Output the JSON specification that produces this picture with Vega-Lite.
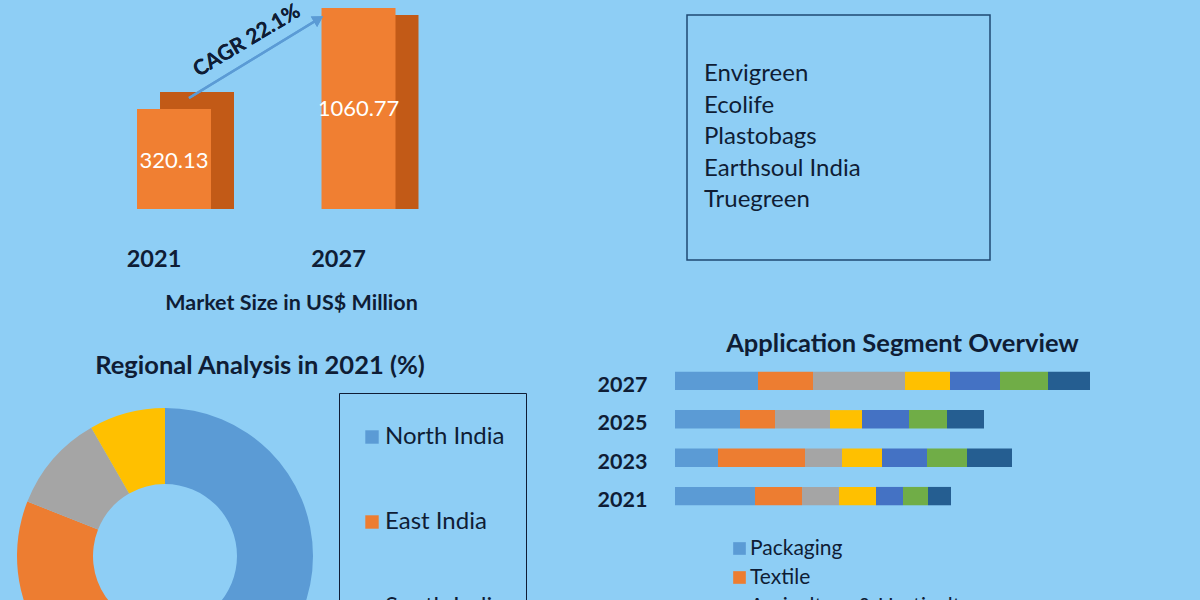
{
  "$schema": "https://vega.github.io/schema/vega-lite/v6.json",
  "background": "#8ECEF5",
  "padding": 0,
  "config": {
    "view": {"stroke": null},
    "font": "Lato",
    "axis": {"labelColor": "#0F1D35", "titleColor": "#0F1D35", "labelFont": "Lato", "titleFont": "Lato"},
    "title": {"color": "#0F1D35", "font": "Lato"},
    "legend": {"labelColor": "#0F1D35", "labelFont": "Lato"}
  },
  "spacing": 17,
  "resolve": {"scale": {"color": "independent"}, "legend": {"color": "independent"}},
  "vconcat": [
    {
      "spacing": 136,
      "resolve": {"scale": {"color": "independent"}, "legend": {"color": "independent"}},
      "hconcat": [
        {
          "width": 550,
          "height": 194,
          "data": {"values": [{"year": "2021", "value": 320.13}, {"year": "2027", "value": 1060.77}]},
          "encoding": {
            "x": {
              "field": "year",
              "type": "nominal",
              "scale": {"domain": ["2021", "2027"], "paddingInner": 0.599, "paddingOuter": 0.79, "align": 0.47},
              "axis": {
                "title": "Market Size in US$ Million",
                "labelAngle": 0,
                "domain": false,
                "ticks": false,
                "tickSize": 0,
                "grid": false,
                "labelPadding": 38,
                "labelOffset": -20,
                "labelFontSize": 23.5,
                "labelFontWeight": "bold",
                "titleFontSize": 21.5,
                "titleFontWeight": "bold",
                "titlePadding": 22,
                "titleX": 291
              }
            }
          },
          "layer": [
            {
              "mark": {"type": "bar", "color": "#C25A17", "xOffset": 23, "yOffset": -17, "clip": true},
              "encoding": {
                "y": {"field": "value", "type": "quantitative", "scale": {"domain": [-413.1, 1009.5], "nice": false, "zero": false}, "axis": null},
                "y2": {"datum": -413.1}
              }
            },
            {
              "mark": {"type": "bar", "color": "#F07F32"},
              "encoding": {
                "y": {"field": "value", "type": "quantitative", "scale": {"domain": [-413.1, 1009.5], "nice": false, "zero": false}, "axis": null},
                "y2": {"datum": -413.1}
              }
            },
            {
              "mark": {"type": "text", "color": "#FFFFFF", "fontSize": 22, "baseline": "middle"},
              "encoding": {
                "y": {"field": "value", "type": "quantitative", "scale": {"domain": [-363.5, 2399.7], "nice": false, "zero": false}, "axis": null},
                "text": {"field": "value", "type": "quantitative", "format": ".2f"}
              }
            },
            {
              "mark": {"type": "rule", "color": "#5B9BD5", "strokeWidth": 2.5, "xOffset": 15, "x2Offset": -40},
              "encoding": {
                "x": {"datum": "2021"},
                "x2": {"datum": "2027"},
                "y": {"datum": 400.8, "type": "quantitative", "scale": {"domain": [-413.1, 1009.5], "nice": false, "zero": false}, "axis": null},
                "y2": {"datum": 980}
              }
            },
            {
              "mark": {"type": "point", "shape": "triangle-up", "filled": true, "opacity": 1, "color": "#5B9BD5", "size": 150, "angle": 59, "xOffset": -40},
              "encoding": {
                "x": {"datum": "2027"},
                "y": {"datum": 980, "type": "quantitative", "scale": {"domain": [-413.1, 1009.5], "nice": false, "zero": false}, "axis": null}
              }
            },
            {
              "mark": {"type": "text", "text": "CAGR 22.1%", "angle": -31, "fontSize": 21, "fontWeight": "bold", "color": "#0F1D35", "xOffset": 73, "baseline": "middle", "align": "center"},
              "encoding": {
                "x": {"datum": "2021"},
                "y": {"datum": 818.8, "type": "quantitative", "scale": {"domain": [-413.1, 1009.5], "nice": false, "zero": false}, "axis": null}
              }
            }
          ],
          "resolve": {"scale": {"y": "independent"}}
        },
        {
          "width": 303,
          "height": 245,
          "title": {"text": " ", "fontSize": 1, "offset": 13},
          "view": {"stroke": "#1F4A73", "strokeWidth": 1.5},
          "data": {"values": [
            {"company": "Envigreen"},
            {"company": "Ecolife"},
            {"company": "Plastobags"},
            {"company": "Earthsoul India"},
            {"company": "Truegreen"}
          ]},
          "mark": {"type": "text", "align": "left", "baseline": "middle", "fontSize": 24, "color": "#0F1D35", "dx": 17},
          "encoding": {
            "y": {"field": "company", "type": "nominal", "sort": null, "scale": {"type": "point", "range": [59, 185], "padding": 0}, "axis": null},
            "x": {"datum": 0, "type": "quantitative", "scale": {"domain": [0, 1]}, "axis": null},
            "text": {"field": "company"}
          }
        }
      ]
    },
    {
      "spacing": 70,
      "resolve": {"scale": {"color": "independent"}, "legend": {"color": "independent"}},
      "hconcat": [
        {
          "width": 330,
          "height": 388,
          "title": {"text": "Regional Analysis in 2021 (%)", "fontSize": 25.5, "fontWeight": "bold", "dx": 95, "dy": 25, "offset": 8},
          "data": {"values": [
            {"region": "North India", "share": 50},
            {"region": "East India", "share": 31},
            {"region": "South India", "share": 10.7},
            {"region": "West India", "share": 8.3}
          ]},
          "mark": {"type": "arc", "innerRadius": 72, "outerRadius": 148},
          "encoding": {
            "theta": {"field": "share", "type": "quantitative", "stack": true},
            "order": {"field": "share", "type": "quantitative", "sort": "descending"},
            "color": {
              "field": "region",
              "type": "nominal",
              "scale": {"domain": ["North India", "East India", "South India", "West India"], "range": ["#5B9BD5", "#ED7D31", "#A5A5A5", "#FFC000"]},
              "legend": {
                "title": " ",
                "titleFontSize": 6,
                "titlePadding": 5,
                "orient": "none",
                "legendX": 339,
                "legendY": 31,
                "padding": 21,
                "strokeColor": "#0F1D35",
                "rowPadding": 61,
                "labelFontSize": 24,
                "symbolType": "square",
                "symbolSize": 180,
                "labelOffset": 1
              }
            }
          }
        },
        {
          "width": 525,
          "height": 153,
          "title": {"text": "Application Segment Overview", "fontSize": 25.5, "fontWeight": "bold", "dx": -35, "offset": 5},
          "data": {"values": [
            {"year": "2027", "segment": "Packaging", "segmentIndex": 1, "value": 83},
            {"year": "2027", "segment": "Textile", "segmentIndex": 2, "value": 55},
            {"year": "2027", "segment": "Agriculture & Horticulture", "segmentIndex": 3, "value": 92},
            {"year": "2027", "segment": "Food & Beverage", "segmentIndex": 4, "value": 45},
            {"year": "2027", "segment": "Healthcare", "segmentIndex": 5, "value": 50},
            {"year": "2027", "segment": "Retail", "segmentIndex": 6, "value": 48},
            {"year": "2027", "segment": "Others", "segmentIndex": 7, "value": 42},
            {"year": "2025", "segment": "Packaging", "segmentIndex": 1, "value": 65},
            {"year": "2025", "segment": "Textile", "segmentIndex": 2, "value": 35},
            {"year": "2025", "segment": "Agriculture & Horticulture", "segmentIndex": 3, "value": 55},
            {"year": "2025", "segment": "Food & Beverage", "segmentIndex": 4, "value": 32},
            {"year": "2025", "segment": "Healthcare", "segmentIndex": 5, "value": 47},
            {"year": "2025", "segment": "Retail", "segmentIndex": 6, "value": 38},
            {"year": "2025", "segment": "Others", "segmentIndex": 7, "value": 37},
            {"year": "2023", "segment": "Packaging", "segmentIndex": 1, "value": 43},
            {"year": "2023", "segment": "Textile", "segmentIndex": 2, "value": 87},
            {"year": "2023", "segment": "Agriculture & Horticulture", "segmentIndex": 3, "value": 37},
            {"year": "2023", "segment": "Food & Beverage", "segmentIndex": 4, "value": 40},
            {"year": "2023", "segment": "Healthcare", "segmentIndex": 5, "value": 45},
            {"year": "2023", "segment": "Retail", "segmentIndex": 6, "value": 40},
            {"year": "2023", "segment": "Others", "segmentIndex": 7, "value": 45},
            {"year": "2021", "segment": "Packaging", "segmentIndex": 1, "value": 80},
            {"year": "2021", "segment": "Textile", "segmentIndex": 2, "value": 47},
            {"year": "2021", "segment": "Agriculture & Horticulture", "segmentIndex": 3, "value": 37},
            {"year": "2021", "segment": "Food & Beverage", "segmentIndex": 4, "value": 37},
            {"year": "2021", "segment": "Healthcare", "segmentIndex": 5, "value": 27},
            {"year": "2021", "segment": "Retail", "segmentIndex": 6, "value": 25},
            {"year": "2021", "segment": "Others", "segmentIndex": 7, "value": 23}
          ]},
          "mark": {"type": "bar"},
          "encoding": {
            "y": {
              "field": "year",
              "type": "nominal",
              "scale": {"domain": ["2027", "2025", "2023", "2021"], "paddingInner": 0.522, "paddingOuter": 0.253},
              "axis": {"title": null, "domain": false, "ticks": false, "tickSize": 0, "labelPadding": 28, "labelFontSize": 21.5, "labelFontWeight": "bold", "labelOffset": 5}
            },
            "x": {"field": "value", "type": "quantitative", "stack": "zero", "scale": {"domain": [0, 525], "nice": false}, "axis": null},
            "order": {"field": "segmentIndex", "type": "quantitative", "sort": "ascending"},
            "color": {
              "field": "segment",
              "type": "nominal",
              "scale": {
                "domain": ["Packaging", "Textile", "Agriculture & Horticulture", "Food & Beverage", "Healthcare", "Retail", "Others"],
                "range": ["#5B9BD5", "#ED7D31", "#A5A5A5", "#FFC000", "#4472C4", "#70AD47", "#255E91"]
              },
              "legend": {
                "title": null,
                "orient": "none",
                "legendX": 54,
                "legendY": 176,
                "padding": 0,
                "labelFontSize": 21,
                "symbolType": "square",
                "symbolSize": 160,
                "rowPadding": 7,
                "labelOffset": 0,
                "labelLimit": 400
              }
            }
          }
        }
      ]
    }
  ]
}
